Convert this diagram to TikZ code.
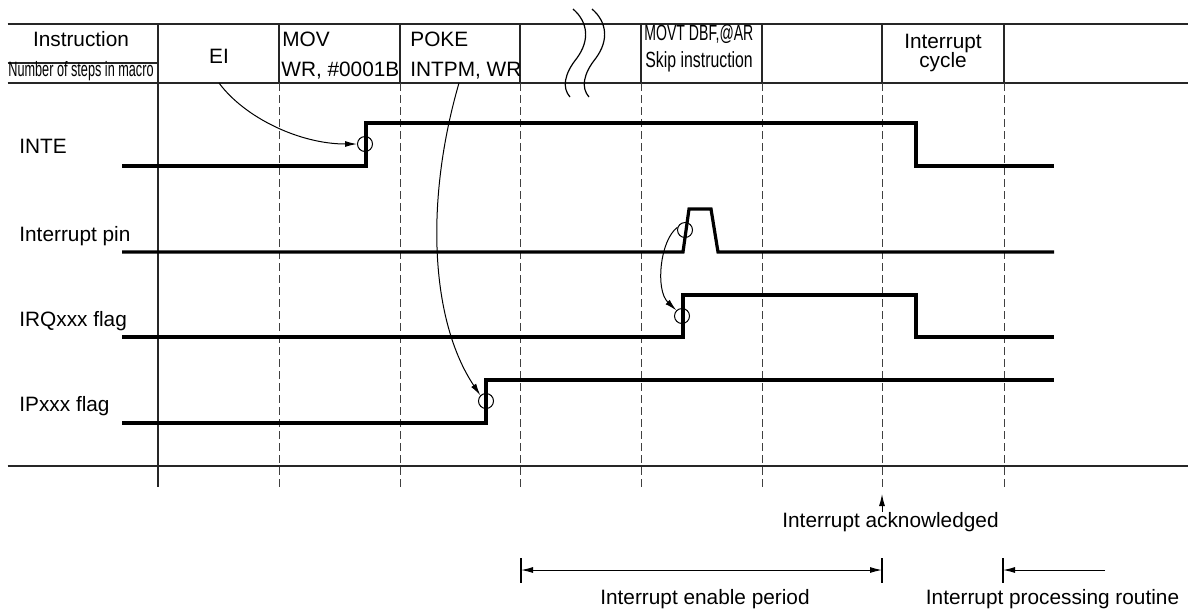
\documentclass[tikz,border=0pt]{standalone}
\usepackage{fontspec}
\setmainfont{Liberation Sans}
\usetikzlibrary{arrows.meta}
\begin{document}
\begin{tikzpicture}[x=0.5pt,y=-0.5pt,
  tline/.style={line width=0.6pt, black!85},
  gdash/.style={line width=0.5pt, black!75, dash pattern=on 4pt off 2pt},
  sig/.style={line width=1.6pt, line join=miter},
  ring/.style={circle, draw, line width=0.5pt, minimum size=7.5pt, inner sep=0pt},
  lbl/.style={font=\fontsize{10.4}{12}\selectfont, inner sep=0pt},
  arr/.style={line width=0.5pt, -{Latex[length=6pt,width=3pt]}},
  darr/.style={line width=0.5pt, {Latex[length=6pt,width=3pt]}-{Latex[length=6pt,width=3pt]}},
]
\useasboundingbox (0,0) rectangle (1188,612);
% table lines
\draw[tline] (7.6,24) -- (1188,24);
\draw[tline] (7.6,63) -- (158,63);
\draw[tline] (7.6,83) -- (1188,83);
\draw[tline] (7.6,466) -- (1188,466);
\draw[tline] (158,24) -- (158,487);
\foreach \x in {279,400,520,641,762,882,1004}{
  \draw[tline] (\x,24) -- (\x,83);
  \draw[gdash] (\x,83) -- (\x,487);
}
% break marks
\draw[line width=0.6pt] (573,9) .. controls (588,22) and (590,40) .. (577,58) .. controls (564,74) and (562,88) .. (570,97);
\draw[line width=0.6pt] (592,9) .. controls (607,22) and (609,40) .. (596,58) .. controls (583,74) and (581,88) .. (589,97);
% header text
\node[lbl, anchor=base] (hInstr) at (81,46.5) {Instruction};
\node[lbl, anchor=base] (hSteps) at (81,76.4) {\scalebox{0.61}[1]{Number of steps in macro}};
\node[lbl, anchor=base] (hEI) at (219,63.5) {EI};
\node[lbl, anchor=base west] (hMov) at (282,46.5) {MOV};
\node[lbl, anchor=base west] (hMov2) at (281,76.4) {WR, \#0001B};
\node[lbl, anchor=base west] (hPoke) at (410,46.5) {POKE};
\node[lbl, anchor=base west] (hPoke2) at (410,76.4) {INTPM, WR};
\node[lbl, anchor=base west, font=\fontsize{11}{12}\selectfont] (hMovt) at (644,40.6) {\scalebox{0.64}[1]{MOVT DBF,@AR}};
\node[lbl, anchor=base west, font=\fontsize{11}{12}\selectfont] (hSkip) at (645,67) {\scalebox{0.72}[1]{Skip instruction}};
\node[lbl, anchor=base] (hInt) at (943,48) {Interrupt};
\node[lbl, anchor=base] (hCyc) at (943,67) {cycle};
% row labels
\node[lbl, anchor=base west] (rInte) at (19,153) {INTE};
\node[lbl, anchor=base west] (rPin) at (19,241.7) {Interrupt pin};
\node[lbl, anchor=base west] (rIrq) at (19,326) {IRQxxx flag};
\node[lbl, anchor=base west] (rIp) at (19,411.7) {IPxxx flag};
% signals
\draw[sig] (122,166) -- (366,166) -- (366,123) -- (916,123) -- (916,166) -- (1054,166);
\draw[sig] (122,252) -- (683,252) -- (689,209) -- (711,209) -- (718,252) -- (1054,252);
\draw[sig] (122,337) -- (683,337) -- (683,295) -- (916,295) -- (916,337) -- (1054,337);
\draw[sig] (122,423) -- (486,423) -- (486,380) -- (1054,380);
% circles
\node[ring] (cInte) at (365,144) {};
\node[ring] (cPin) at (685,230) {};
\node[ring] (cIrq) at (682,316) {};
\node[ring] (cIp) at (486,401) {};
% cause arrows
\coordinate (eiStart) at (219,83);
\coordinate (pokeStart) at (459,83);
\draw[arr] (eiStart) .. controls (245,118) and (300,144) .. (cInte.west);
\draw[arr] (pokeStart) .. controls (425,200) and (430,320) .. (cIp.north west);
\draw[arr] (cPin.160) .. controls (660,240) and (655,290) .. (cIrq.north west);
% bottom annotations
\node[lbl, anchor=base] (ack) at (890.5,527) {Interrupt acknowledged};
\coordinate (ackTip) at (882,494);
\draw[arr] (ackTip |- ack.north) -- (ackTip);
\coordinate (eL) at (521,570);
\coordinate (eR) at (882,570);
\draw[line width=0.6pt] (521,558) -- (521,583);
\draw[line width=0.6pt] (882,558) -- (882,583);
\draw[darr] (eL) -- (eR);
\node[lbl, anchor=base] (enable) at (705,604) {Interrupt enable period};
\coordinate (pS) at (1105,570);
\coordinate (pE) at (1003,570);
\draw[line width=0.6pt] (1003,558) -- (1003,583);
\draw[arr] (pS) -- (pE);
\node[lbl, anchor=base] (proc) at (1052.5,604) {Interrupt processing routine};
\end{tikzpicture}
\end{document}
